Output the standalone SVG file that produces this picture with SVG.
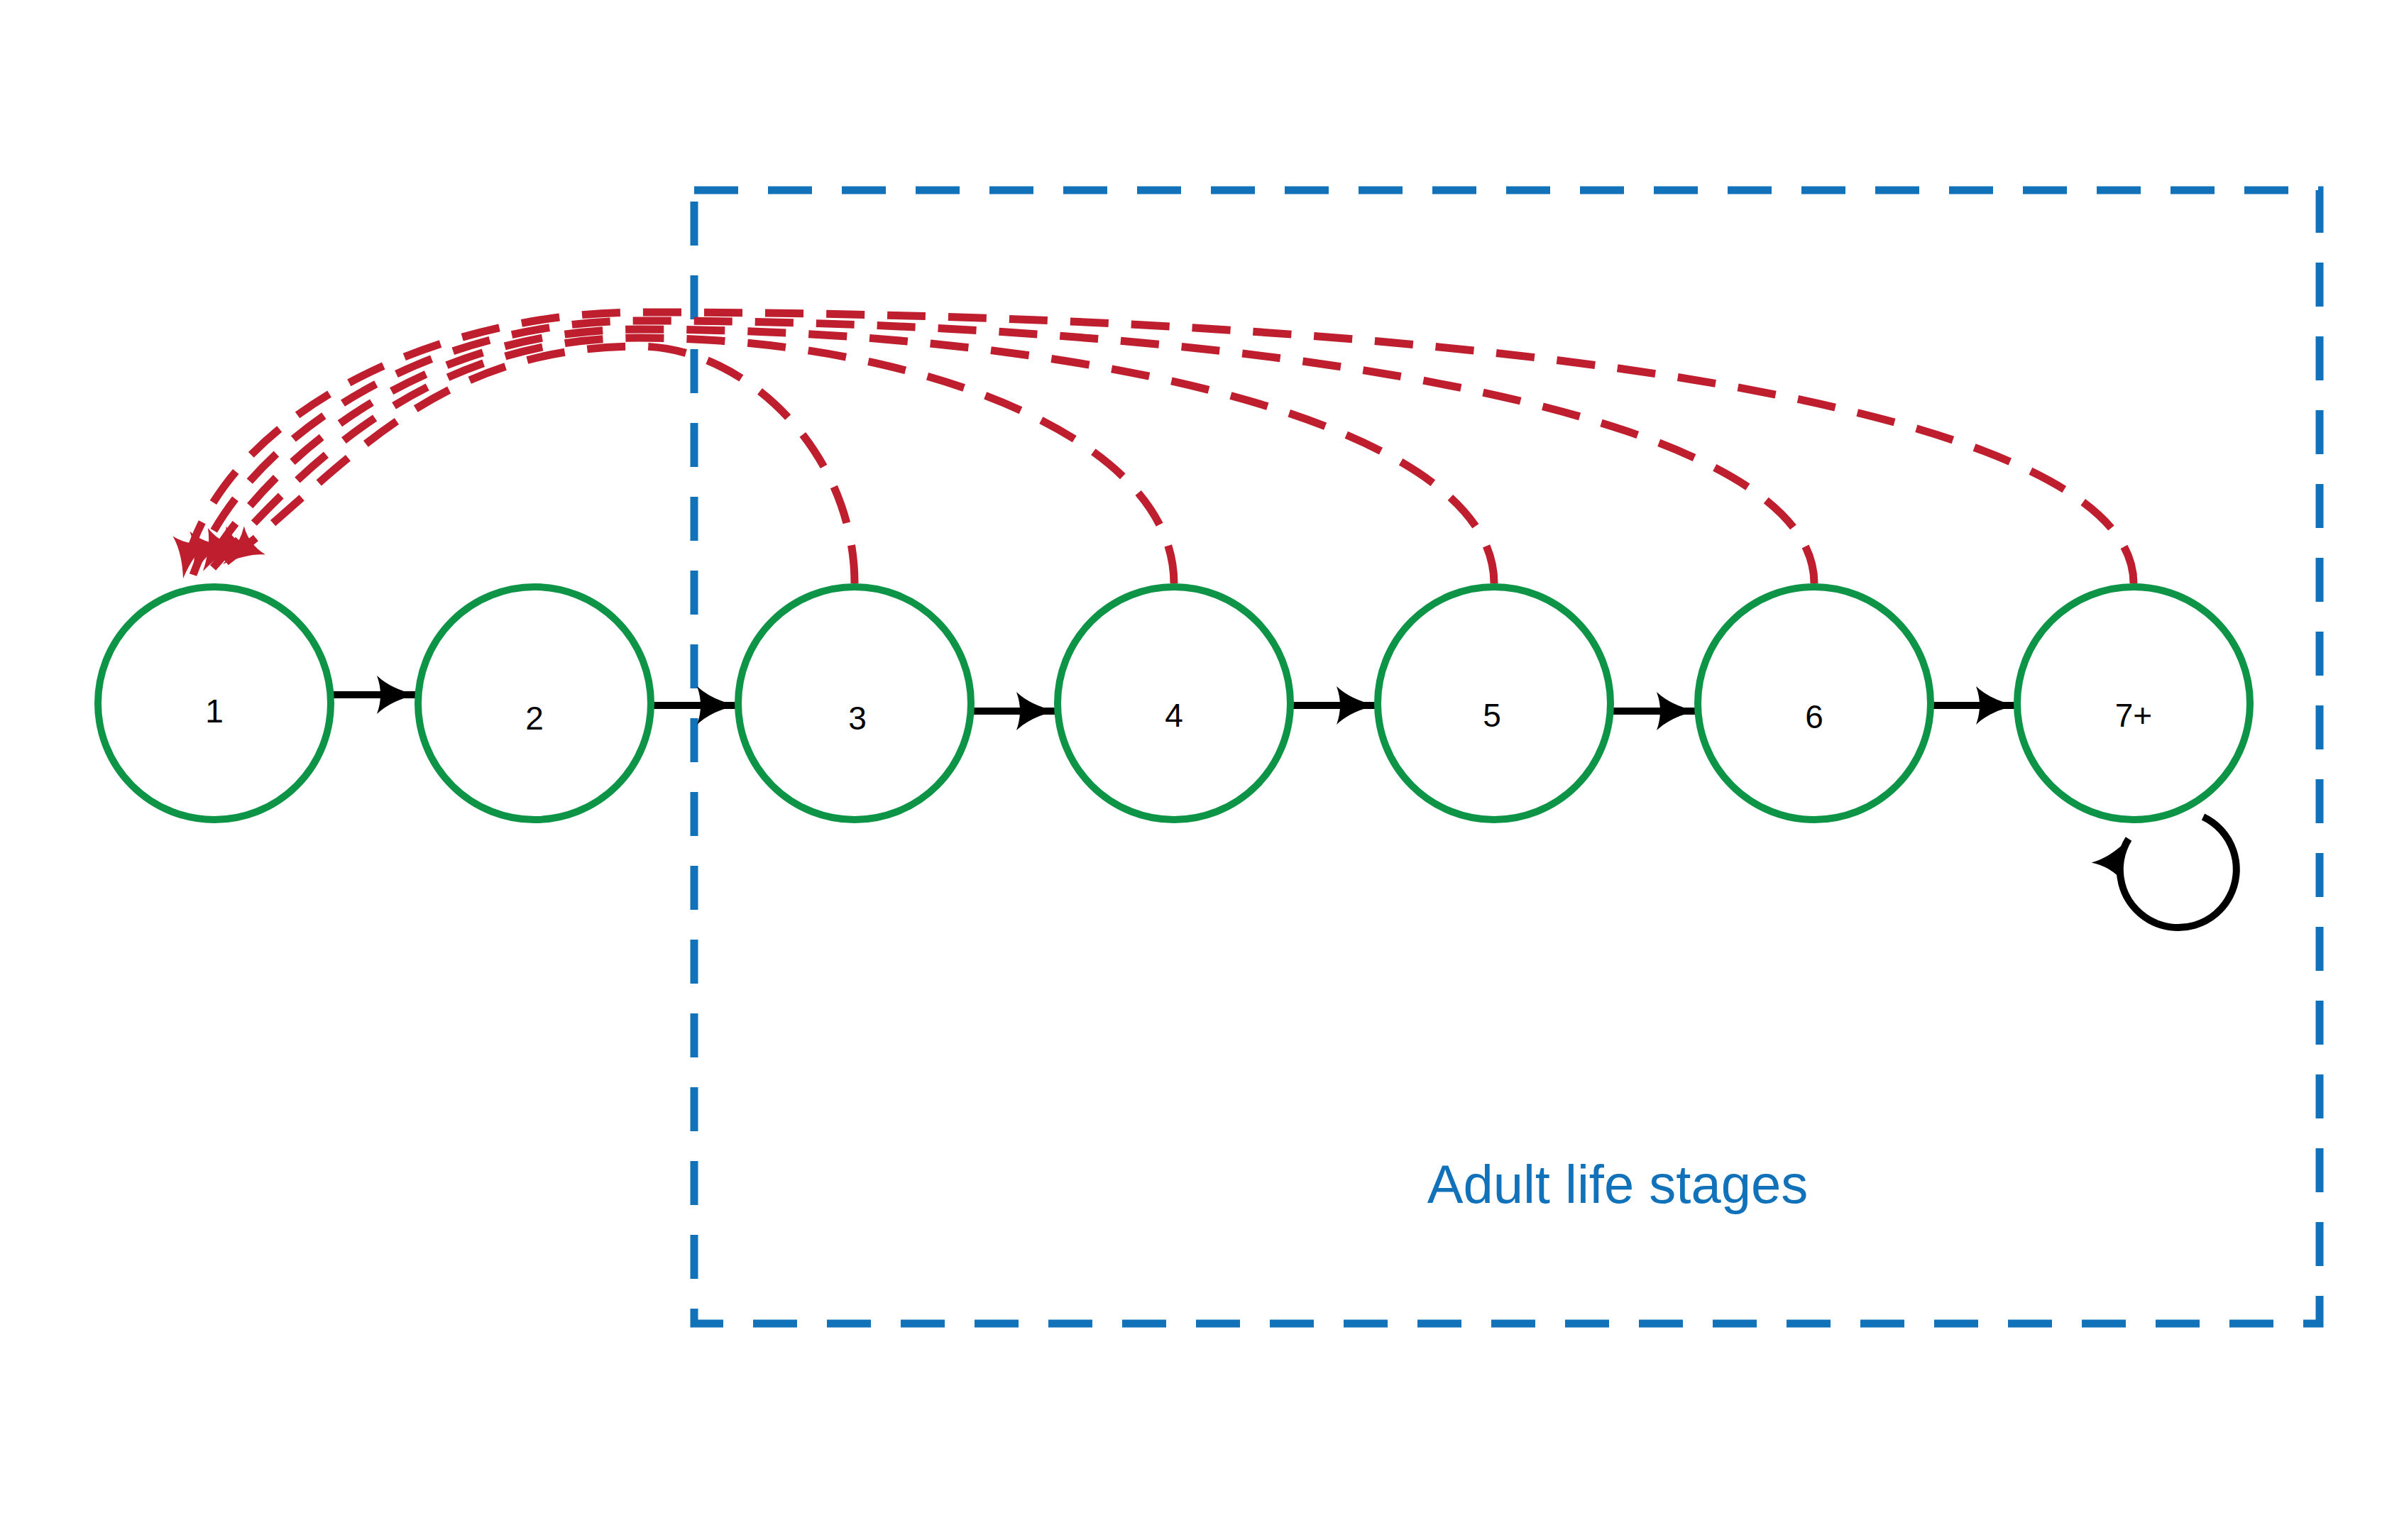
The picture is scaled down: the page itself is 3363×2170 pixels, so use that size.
<svg xmlns="http://www.w3.org/2000/svg" width="3363" height="2170" viewBox="0 0 3363 2170">
<style>
.node{fill:#fff;stroke:#0e9447;stroke-width:10}
.lbl{font-family:"Liberation Sans",Arial,sans-serif;font-size:46px;fill:#000;text-anchor:middle}
.blk{stroke:#000;stroke-width:10;fill:none}
.red{stroke:#be1e2d;stroke-width:11;fill:none;stroke-dasharray:54 32}
</style>
<defs>
<marker id="ab" markerUnits="userSpaceOnUse" markerWidth="60" markerHeight="60" refX="56" refY="30" orient="auto"><path d="M0,3 Q20,22 56,30 Q20,38 0,57 Q10,30 0,3Z" fill="#000"/></marker>
<marker id="ar" markerUnits="userSpaceOnUse" markerWidth="60" markerHeight="60" refX="56" refY="30" orient="auto"><path d="M0,5 Q20,22 56,30 Q20,38 0,55 Q10,30 0,5Z" fill="#be1e2d"/></marker>
</defs>
<rect x="0" y="0" width="3363" height="2170" fill="#fff"/>
<rect x="978" y="268" width="2290" height="1597" fill="none" stroke="#1172b9" stroke-width="11" stroke-dasharray="62 42"/>
<text x="2279" y="1695" font-family="Liberation Sans,Arial,sans-serif" font-size="76" fill="#1172b9" text-anchor="middle">Adult life stages</text>
<g id="connectors">
<path class="blk" d="M470,979 H587" marker-end="url(#ab)"/>
<path class="blk" d="M921,994 H1038" marker-end="url(#ab)"/>
<path class="blk" d="M1372,1002 H1488" marker-end="url(#ab)"/>
<path class="blk" d="M1822,994 H1939" marker-end="url(#ab)"/>
<path class="blk" d="M2273,1002 H2390" marker-end="url(#ab)"/>
<path class="blk" d="M2724,994 H2840" marker-end="url(#ab)"/>
<path class="blk" d="M3104,1151 A82 82 0 1 1 2999,1182" marker-end="url(#ab)"/>
<path class="red" d="M1204,822 C1204,640 1052,488 900,488 C600,488 474,675 314,795" marker-end="url(#ar)"/>
<path class="red" d="M1654,822 C1654,610 1277,476 900,476 C600,476 430,655 300,800" marker-end="url(#ar)"/>
<path class="red" d="M2105,822 C2105,590 1502,464 900,464 C600,464 386,635 286,805" marker-end="url(#ar)"/>
<path class="red" d="M2556,822 C2556,570 1728,452 900,452 C600,452 342,615 272,810" marker-end="url(#ar)"/>
<path class="red" d="M3006,822 C3006,550 1953,440 900,440 C600,440 298,595 258,815" marker-end="url(#ar)"/>
</g>
<g id="n1"><circle class="node" cx="302" cy="991" r="164"/><text class="lbl" x="302" y="1018">1</text></g>
<g id="n2"><circle class="node" cx="753" cy="991" r="164"/><text class="lbl" x="753" y="1028">2</text></g>
<g id="n3"><circle class="node" cx="1204" cy="991" r="164"/><text class="lbl" x="1208" y="1028">3</text></g>
<g id="n4"><circle class="node" cx="1654" cy="991" r="164"/><text class="lbl" x="1654" y="1024">4</text></g>
<g id="n5"><circle class="node" cx="2105" cy="991" r="164"/><text class="lbl" x="2102" y="1024">5</text></g>
<g id="n6"><circle class="node" cx="2556" cy="991" r="164"/><text class="lbl" x="2556" y="1026">6</text></g>
<g id="n7"><circle class="node" cx="3006" cy="991" r="164"/><text class="lbl" x="3006" y="1024">7+</text></g>
</svg>
